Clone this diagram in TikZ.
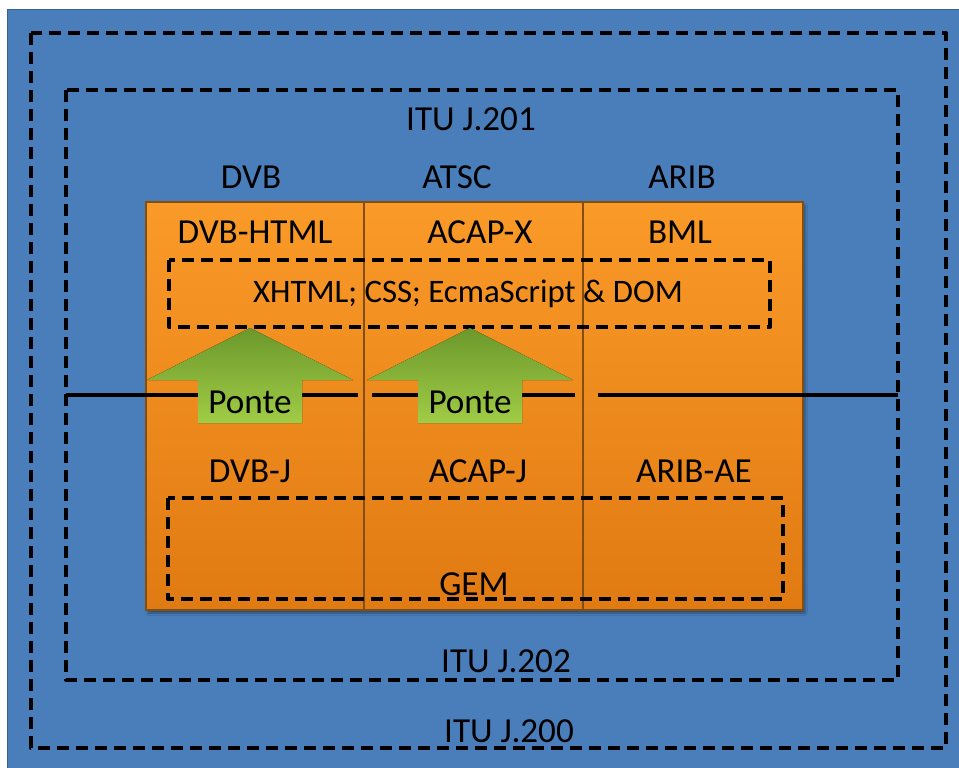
\documentclass[tikz,border=0pt]{standalone}
\usepackage{fontspec}
\setmainfont{Carlito}
\usetikzlibrary{shadows.blur}

\definecolor{bgblue}{RGB}{74,126,187}
\definecolor{bgedge}{RGB}{56,98,150}
\definecolor{orangetop}{RGB}{250,154,40}
\definecolor{orangebot}{RGB}{224,122,18}
\definecolor{orangeedge}{RGB}{130,78,18}
\definecolor{greentop}{RGB}{108,152,44}
\definecolor{greenbot}{RGB}{160,204,70}

\begin{document}
\begin{tikzpicture}[
    x=0.3mm, y=-0.3mm,
    frame/.style={draw=black, line width=1.2mm, dash pattern=on 3.6mm off 2.1mm, line join=round},
    column/.style={top color=orangetop, bottom color=orangebot, draw=orangeedge, line width=0.9pt},
    divider/.style={draw=black, line width=1.2mm},
    ponte/.style={top color=greentop, bottom color=greenbot},
    lbl/.style={font=\fontsize{30}{34}\selectfont, inner sep=0pt, anchor=base},
]
    \useasboundingbox (0,0) rectangle (959,767);
    \fill[white] (0,0) rectangle (959,767);
    \filldraw[fill=bgblue, draw=bgedge, line width=0.8pt] (7,9) rectangle (962,770);

    % Moldura das normas ITU
    \draw[frame] (31,33) rectangle (946,748);
    \draw[frame] (66,90) rectangle (898,680);

    % Colunas
    \path[column, blur shadow={shadow xshift=0.6mm, shadow yshift=-0.9mm, shadow opacity=40}] (146,202) rectangle (803,610);
    \path[column] (146,202) rectangle (364,610);
    \path[column] (364,202) rectangle (583,610);
    \path[column] (583,202) rectangle (803,610);

    % Tecnologias comuns
    \draw[frame] (169,260) rectangle (770,327);
    \draw[frame] (168,498) rectangle (783,599);

    % Divisa
    \draw[divider] (66,395) -- (358,395) (372,395) -- (575,395) (598,395) -- (898,395);

    % Pontes
    \foreach \cx/\nm in {250/ponteA, 470/ponteB} {
        \fill[ponte] (\cx,328) -- (\cx+103,380) -- (\cx+52,380) -- (\cx+52,423)
            -- (\cx-52,423) -- (\cx-52,380) -- (\cx-103,380) -- cycle;
        \node[lbl] (\nm) at (\cx,413) {Ponte};
    }

    % Textos
    \node[lbl] (j201) at (471,130) {ITU J.201};
    \node[lbl] (j202) at (506,672) {ITU J.202};
    \node[lbl] (j200) at (509,742) {ITU J.200};

    \node[lbl] (dvb) at (251,188) {DVB};
    \node[lbl] (atsc) at (457,188) {ATSC};
    \node[lbl] (arib) at (682,188) {ARIB};

    \node[lbl] (dvbhtml) at (255,243) {DVB-HTML};
    \node[lbl] (acapx) at (480,243) {ACAP-X};
    \node[lbl] (bml) at (680,243) {BML};
    \node[lbl, font=\fontsize{28}{32}\selectfont] (xhtml) at (468,302) {XHTML; CSS; EcmaScript \& DOM};

    \node[lbl] (dvbj) at (250,482) {DVB-J};
    \node[lbl] (acapj) at (478,482) {ACAP-J};
    \node[lbl] (aribae) at (694,482) {ARIB-AE};
    \node[lbl] (gem) at (474,595) {GEM};
\end{tikzpicture}
\end{document}
